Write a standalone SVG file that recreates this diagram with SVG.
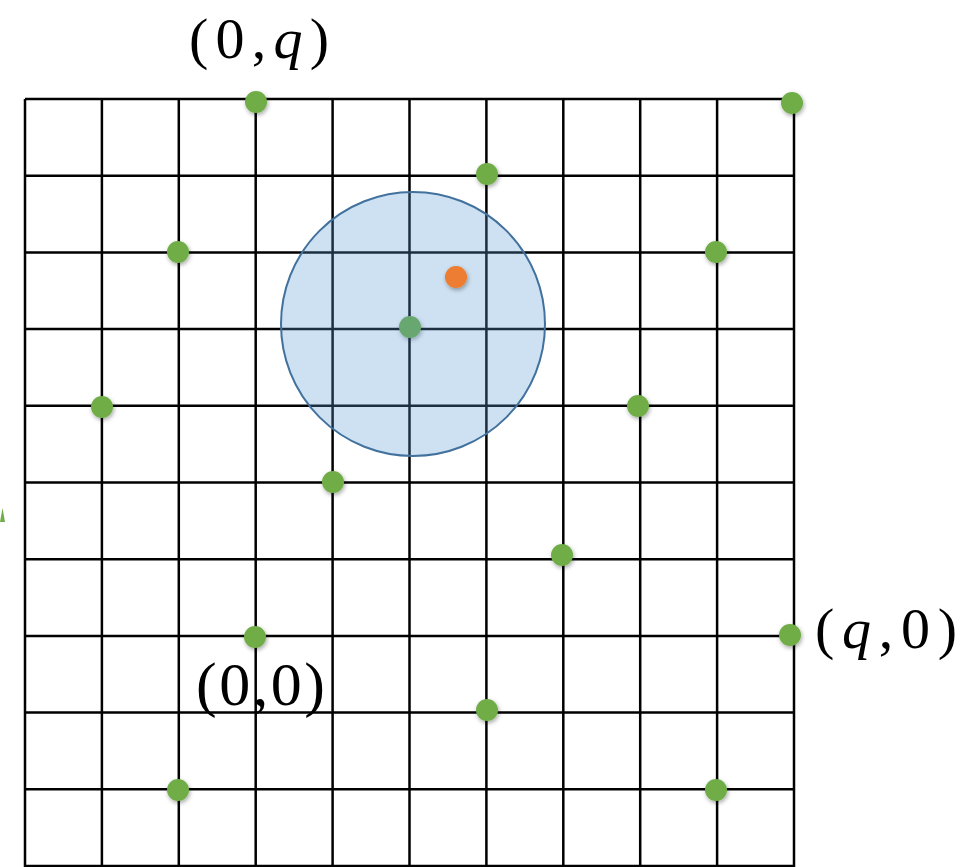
<svg xmlns="http://www.w3.org/2000/svg" width="963" height="867" viewBox="0 0 963 867">
<style>
.g{stroke:#000;stroke-width:2.5;fill:none}
.pt{fill:#70AD47;filter:url(#sh)}
.lbl{font-family:"Liberation Serif","DejaVu Serif",serif;fill:#000}
</style>
<defs>
<filter id="sh" x="-50%" y="-50%" width="200%" height="200%">
<feDropShadow dx="1" dy="2" stdDeviation="2" flood-color="#000" flood-opacity="0.35"/>
</filter>
</defs>
<rect width="963" height="867" fill="#fff"/>
<g id="grid" class="g">
<path d="M25 99V867M101.9 99V867M178.8 99V867M255.7 99V867M332.6 99V867M409.5 99V867M486.4 99V867M563.3 99V867M640.2 99V867M717.1 99V867M794 99V867"/>
<path d="M25 99H794M25 175.7H794M25 252.4H794M25 329.1H794M25 405.8H794M25 482.5H794M25 559.2H794M25 635.9H794M25 712.6H794M25 789.3H794M25 866H794"/>
</g>
<g id="points">
<circle class="pt" cx="256" cy="102" r="11"/>
<circle class="pt" cx="792" cy="103" r="11"/>
<circle class="pt" cx="487" cy="174" r="11"/>
<circle class="pt" cx="178" cy="252" r="11"/>
<circle class="pt" cx="716" cy="252" r="11"/>
<circle class="pt" cx="410" cy="327" r="11"/>
<circle class="pt" cx="102" cy="407" r="11"/>
<circle class="pt" cx="638" cy="406" r="11"/>
<circle class="pt" cx="333" cy="482" r="11"/>
<circle class="pt" cx="562" cy="555" r="11"/>
<circle class="pt" cx="255" cy="637" r="11"/>
<circle class="pt" cx="790" cy="635" r="11"/>
<circle class="pt" cx="487" cy="710" r="11"/>
<circle class="pt" cx="178" cy="790" r="11"/>
<circle class="pt" cx="716" cy="790" r="11"/>
</g>
<g id="neighborhood">
<circle cx="413" cy="324" r="132" fill="#5B9BD5" fill-opacity="0.3" stroke="#41719C" stroke-width="2"/>
</g>
<g id="query">
<circle cx="456" cy="277" r="11" fill="#ED7D31" filter="url(#sh)"/>
</g>
<path d="M0 522L2.5 508L5 522Z" fill="#70AD47"/>
<g id="labels">
<text class="lbl" x="189" y="58" font-size="58" textLength="140" lengthAdjust="spacing">(0,<tspan font-style="italic">q</tspan>)</text>
<text class="lbl" x="196" y="705" font-size="62" textLength="129" lengthAdjust="spacing">(0,0)</text>
<text class="lbl" x="815" y="648" font-size="58" textLength="142" lengthAdjust="spacing">(<tspan font-style="italic">q</tspan>,0)</text>
</g>
</svg>
